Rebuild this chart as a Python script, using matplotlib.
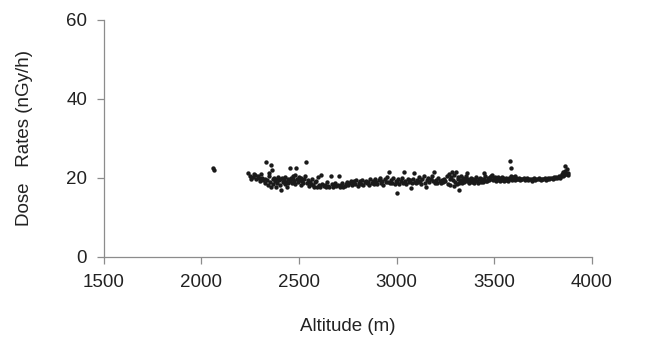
import numpy as np
import matplotlib.pyplot as plt

plt.rcParams['font.family'] = ['Liberation Sans', 'DejaVu Sans']

# altitude (m) and dose rate (nGy/h)
altitude = [
    2060, 2066,
    2240, 2248, 2256, 2262, 2270, 2276, 2282, 2288, 2295, 2300, 2306, 2312, 2318,
    2324, 2328, 2333, 2336, 2340, 2344, 2348, 2352, 2356, 2359, 2361, 2365, 2369, 2373, 2377, 2381, 2385, 2389, 2393, 2397,
    2401, 2405, 2410, 2414, 2418, 2422, 2426, 2430, 2434, 2438, 2442, 2446, 2452, 2455, 2459, 2463, 2467, 2471, 2475, 2478, 2482, 2487, 2490, 2494, 2498,
    2503, 2508, 2512, 2516, 2520, 2525, 2530, 2537, 2540, 2545, 2550, 2555, 2560, 2565, 2570, 2575, 2580, 2585, 2590, 2597,
    2602, 2608, 2614, 2620, 2626, 2632, 2638, 2644, 2650, 2656, 2662, 2668, 2674, 2680, 2686, 2692, 2698, 2704, 2710, 2716, 2722, 2728, 2734, 2740, 2746,
    2752, 2758, 2764, 2770, 2776, 2782, 2788, 2794, 2800, 2806, 2812, 2818, 2824, 2830, 2836, 2842, 2848, 2854, 2860, 2866, 2872, 2878, 2884, 2890, 2896,
    2902, 2908, 2914, 2920, 2926, 2932, 2938, 2944, 2950, 2956, 2962, 2966, 2972, 2978, 2984, 2990, 2996,
    3000, 3004, 3008, 3014, 3020, 3026, 3032, 3039, 3044, 3050, 3056, 3062, 3068, 3075, 3080, 3084, 3090, 3094, 3098,
    3104, 3110, 3115, 3120, 3126, 3132, 3138, 3144, 3151, 3156, 3162, 3168, 3174, 3180, 3186, 3192, 3196,
    3202, 3208, 3214, 3220, 3226, 3232, 3238, 3244, 3250, 3256, 3262, 3268, 3272, 3276, 3280, 3284, 3288, 3292, 3296,
    3300, 3304, 3308, 3312, 3316, 3319, 3322, 3326, 3330, 3334, 3338, 3342, 3346, 3350, 3354, 3358, 3362, 3366, 3370, 3375, 3380, 3385, 3390, 3395,
    3400, 3405, 3410, 3415, 3420, 3425, 3430, 3435, 3440, 3446, 3450, 3455, 3460, 3464, 3468, 3472, 3476, 3480, 3484, 3489, 3493, 3497,
    3502, 3506, 3510, 3514, 3518, 3522, 3526, 3530, 3534, 3538, 3542, 3546, 3550, 3554, 3558, 3562, 3566, 3570, 3575, 3580, 3583, 3585, 3588, 3592, 3596, 3600, 3604, 3608, 3612, 3616,
    3620, 3626, 3632, 3638, 3644, 3650, 3656, 3662, 3668, 3674, 3680, 3686, 3692, 3698, 3704, 3710, 3716, 3722, 3728, 3734, 3740, 3746, 3752, 3758, 3764, 3770, 3776, 3782, 3788, 3794,
    3800, 3806, 3812, 3818, 3824, 3830, 3836, 3842, 3846, 3850, 3854, 3858, 3862, 3865, 3868, 3872, 3876, 3880,
]
dose = [
    22.5, 22.0,
    21.3, 20.6, 19.8, 20.3, 21.0, 20.8, 19.6, 20.4, 19.9, 19.2, 21.0, 20.1, 19.4,
    18.6, 19.8, 24.1, 19.5, 18.2, 20.4, 21.3, 19.0, 17.8, 23.3, 22.0, 19.6, 18.4, 20.0, 19.2, 17.6, 19.8, 18.8, 20.2, 19.4,
    18.1, 19.7, 17.0, 20.1, 18.9, 19.5, 18.4, 20.3, 19.0, 17.8, 19.8, 18.6, 22.4, 19.3, 20.0, 18.7, 19.6, 20.4, 19.1, 20.8, 18.5, 22.4, 19.7, 18.9, 20.2,
    19.5, 18.3, 20.0, 19.2, 18.6, 19.8, 20.5, 24.0, 18.8, 19.4, 17.9, 19.0, 18.4, 19.7, 18.1, 17.6, 18.9, 19.3, 17.8, 20.3,
    18.2, 17.7, 20.8, 18.5, 17.9, 18.3, 17.6, 19.0, 18.0, 17.8, 20.6, 18.4, 17.7, 18.1, 18.6, 17.9, 18.3, 20.5, 17.8, 18.2, 18.7, 17.6, 18.0, 18.5, 19.0,
    18.3, 18.8, 19.3, 18.1, 18.6, 19.1, 18.4, 19.4, 18.0, 18.7, 19.2, 18.5, 19.5, 18.2, 18.9, 19.3, 18.6, 19.0, 18.3, 19.6, 18.8, 19.2, 18.5, 19.8, 18.9,
    18.4, 19.5, 20.0, 18.7, 19.1, 18.3, 19.7, 18.9, 20.2, 19.0, 21.6, 18.6, 19.4, 18.8, 19.9, 18.5, 19.3,
    18.9, 16.1, 19.6, 18.4, 19.1, 20.0, 18.7, 21.6, 19.3, 18.5, 19.8, 18.9, 19.4, 17.5, 18.8, 19.6, 21.2, 19.0, 18.6,
    19.4, 18.9, 20.3, 19.2, 18.5, 19.7, 20.5, 18.8, 17.8, 19.5, 20.1, 18.9, 19.6, 20.6, 19.1, 21.6, 18.8,
    19.4, 18.7, 19.9, 19.2, 18.6, 19.5, 18.9, 19.7, 19.1, 20.4, 18.5, 21.0, 19.6, 18.2, 20.3, 21.6, 19.4, 18.0, 20.8,
    19.0, 21.5, 18.4, 19.7, 20.2, 17.0, 18.8, 19.5, 20.6, 18.6, 19.3, 20.0, 18.9, 19.6, 20.4, 19.1, 21.2, 19.8, 18.7, 19.4, 20.1, 19.0, 19.6, 18.8,
    19.5, 20.3, 19.2, 18.7, 19.8, 20.1, 19.0, 19.6, 18.9, 21.2, 19.8, 20.4, 19.3, 19.1, 20.0, 19.5, 20.3, 19.7, 20.6, 20.8, 19.4, 20.1,
    19.6, 20.2, 19.3, 19.9, 20.3, 19.5, 20.0, 19.2, 19.8, 20.2, 19.4, 19.9, 19.1, 19.7, 20.1, 19.4, 19.8, 19.3, 20.0, 19.6, 24.3, 22.4, 20.5, 19.5, 20.2, 19.8, 20.6, 19.4, 20.0, 19.7,
    19.6, 19.9, 19.5, 19.8, 19.6, 19.9, 19.4, 19.7, 20.0, 19.5, 19.8, 19.6, 19.3, 19.7, 19.9, 19.5, 19.8, 19.6, 20.0, 19.7, 19.4, 19.8, 19.6, 19.9, 19.5, 19.8, 20.0, 19.7, 19.9, 20.1,
    19.8, 20.2, 19.9, 20.3, 20.0, 20.4, 20.1, 20.6, 21.0, 20.5, 21.5, 20.8, 22.9, 21.8, 20.9, 22.2, 21.3, 20.7,
]

x_ticks = [1500, 2000, 2500, 3000, 3500, 4000]
y_ticks = [0, 20, 40, 60]

fig = plt.figure(figsize=(6.65, 3.43), dpi=100)
ax = fig.add_axes([0.156, 0.251, 0.734, 0.691])

ax.scatter(altitude, dose, s=10, c='#1a1a1a', linewidths=0, zorder=3)

ax.set_xlim(1500, 4000)
ax.set_ylim(0, 60)
ax.set_xticks(x_ticks)
ax.set_yticks(y_ticks)

for side in ['top', 'right']:
    ax.spines[side].set_visible(False)
for side in ['left', 'bottom']:
    ax.spines[side].set_color('#8c8c8c')
    ax.spines[side].set_linewidth(0.9)

ax.tick_params(axis='both', colors='#8c8c8c', direction='out', length=5, width=0.9,
               labelsize=13.5, labelcolor='#222222')
ax.tick_params(axis='x', pad=7)
ax.tick_params(axis='y', pad=7)

ax.set_xlabel('Altitude (m)', fontsize=13.5, color='#222222', va='center')
ax.set_ylabel('Dose   Rates (nGy/h)', fontsize=13.5, color='#222222', va='center', ha='center')
ax.xaxis.set_label_coords(0.5, -0.295)
ax.yaxis.set_label_coords(-0.162, 0.5)

fig.savefig('out.png', dpi=100)
